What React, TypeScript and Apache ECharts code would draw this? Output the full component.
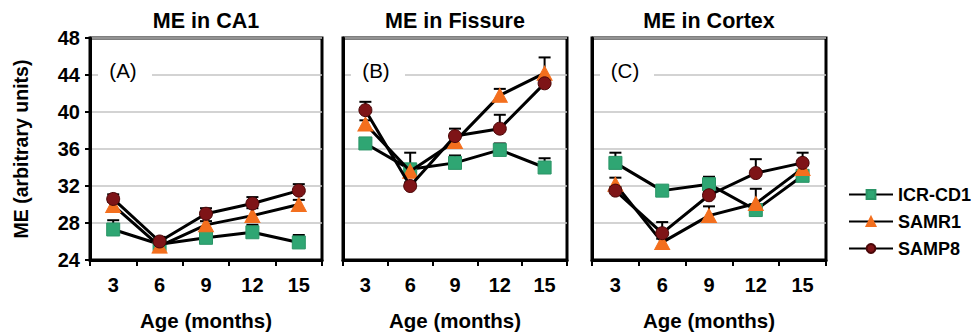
import React, { useEffect, useRef } from 'react';
import * as echarts from 'echarts';

const categories = ['3', '6', '9', '12', '15'];
const seriesNames = ['ICR-CD1', 'SAMR1', 'SAMP8'];
const panelTitles = ['ME in CA1', 'ME in Fissure', 'ME in Cortex'];
const panelLabels = ['(A)', '(B)', '(C)'];

// ME in CA1
const icrCA1 = [27.3, 25.7, 26.4, 27.0, 25.9];
const icrCA1Err = [1.0, 0.4, 0.6, 0.8, 0.8];
const samr1CA1 = [29.9, 25.5, 27.8, 28.8, 30.0];
const samr1CA1Err = [0.4, 0.4, 0.4, 0.8, 0.5];
const samp8CA1 = [30.6, 26.0, 29.0, 30.1, 31.5];
const samp8CA1Err = [0.5, 0.5, 0.6, 0.7, 0.7];

// ME in Fissure
const icrFis = [36.6, 33.8, 34.5, 35.9, 34.0];
const icrFisErr = [0.4, 0.4, 0.8, 0.7, 1.0];
const samr1Fis = [38.7, 33.6, 36.8, 41.8, 44.2];
const samr1FisErr = [0.4, 2.0, 0.4, 0.7, 1.7];
const samp8Fis = [40.2, 32.0, 37.4, 38.2, 43.1];
const samp8FisErr = [0.9, 0.4, 0.8, 1.5, 0.4];

// ME in Cortex
const icrCtx = [34.5, 31.5, 32.2, 29.4, 33.1];
const icrCtxErr = [1.1, 0.4, 0.8, 0.4, 0.4];
const samr1Ctx = [32.2, 25.9, 28.8, 30.1, 33.9];
const samr1CtxErr = [0.7, 0.4, 1.0, 1.6, 0.4];
const samp8Ctx = [31.5, 26.9, 31.0, 33.4, 34.5];
const samp8CtxErr = [0.4, 1.2, 0.4, 1.5, 1.1];

const panelData = [
  [[icrCA1, icrCA1Err], [samr1CA1, samr1CA1Err], [samp8CA1, samp8CA1Err]],
  [[icrFis, icrFisErr], [samr1Fis, samr1FisErr], [samp8Fis, samp8FisErr]],
  [[icrCtx, icrCtxErr], [samr1Ctx, samr1CtxErr], [samp8Ctx, samp8CtxErr]],
];

const FONT = '"Liberation Sans", Arial, sans-serif';
const GRID_TOP = 38;
const GRID_H = 228;
const panelLayout = [
  { left: 90, width: 232 },
  { left: 343, width: 224 },
  { left: 592, width: 234 },
];

const symbolStyles = [
  { symbol: 'rect', symbolSize: 13, color: '#2fa673', border: '#2a9466' },
  { symbol: 'triangle', symbolSize: [15, 14], color: '#f36f1e', border: '#f36f1e' },
  { symbol: 'circle', symbolSize: 13, color: '#7e1417', border: '#4a0708' },
];

function errSeries(idx: number, vals: number[], errs: number[]) {
  return {
    type: 'custom',
    xAxisIndex: idx,
    yAxisIndex: idx,
    z: 1,
    silent: true,
    data: vals.map((v, i) => [i, v, v + errs[i]]),
    encode: { x: 0, y: [1, 2] },
    renderItem: (params: any, api: any) => {
      const p = api.coord([api.value(0), api.value(1)]);
      const t = api.coord([api.value(0), api.value(2)]);
      return {
        type: 'group',
        children: [
          { type: 'line', shape: { x1: p[0], y1: p[1], x2: t[0], y2: t[1] }, style: { stroke: '#000', lineWidth: 2 } },
          { type: 'line', shape: { x1: t[0] - 6, y1: t[1], x2: t[0] + 6, y2: t[1] }, style: { stroke: '#000', lineWidth: 2 } },
        ],
      };
    },
  };
}

export default function App() {
  const ref = useRef<HTMLDivElement>(null);
  useEffect(() => {
    if (!ref.current) return;
    const chart = echarts.init(ref.current, undefined, { renderer: 'svg' });

    const grids = panelLayout.map((p) => ({
      left: p.left,
      top: GRID_TOP,
      width: p.width,
      height: GRID_H,
      show: true,
      borderColor: '#000',
      borderWidth: 3,
      backgroundColor: 'transparent',
    }));

    const xAxes = panelLayout.map((_, i) => ({
      type: 'category',
      gridIndex: i,
      data: categories,
      boundaryGap: true,
      axisLine: { show: true, lineStyle: { color: '#000', width: 3 } },
      axisTick: { show: true, inside: false, length: 6, lineStyle: { color: '#000', width: 2 } },
      axisLabel: { color: '#000', fontFamily: FONT, fontWeight: 'bold', fontSize: 20, margin: 15 },
      splitLine: { show: false },
      name: 'Age (months)',
      nameLocation: 'middle',
      nameGap: 50,
      nameTextStyle: { color: '#000', fontFamily: FONT, fontWeight: 'bold', fontSize: 20.5 },
    }));

    const yAxes = panelLayout.map((_, i) => ({
      type: 'value',
      gridIndex: i,
      min: 24,
      max: 48,
      interval: 4,
      axisLine: { show: true, lineStyle: { color: '#000', width: 3 } },
      axisTick: { show: i === 0, inside: false, length: 5, lineStyle: { color: '#000', width: 2 } },
      axisLabel: { show: i === 0, color: '#000', fontFamily: FONT, fontWeight: 'bold', fontSize: 20, margin: 10 },
      splitLine: { show: true, lineStyle: { color: '#c4c4c4', width: 1.5 } },
      name: i === 0 ? 'ME (arbitrary units)' : '',
      nameLocation: 'middle',
      nameGap: 59,
      nameTextStyle: { color: '#000', fontFamily: FONT, fontWeight: 'bold', fontSize: 19.5 },
    }));

    const series: any[] = [];
    panelData.forEach((panel, pi) => {
      panel.forEach(([vals, errs]) => {
        series.push(errSeries(pi, vals, errs));
      });
      panel.forEach(([vals], si) => {
        const s = symbolStyles[si];
        series.push({
          type: 'line',
          name: seriesNames[si],
          xAxisIndex: pi,
          yAxisIndex: pi,
          data: vals,
          symbol: s.symbol,
          symbolSize: s.symbolSize,
          showAllSymbol: true,
          z: 2 + si,
          itemStyle: { color: s.color, borderColor: s.border, borderWidth: 1, opacity: 1 },
          lineStyle: { color: '#000', width: 3 },
          emphasis: { disabled: true },
        });
      });
    });

    const graphics: any[] = [];
    panelLayout.forEach((p, i) => {
      graphics.push({
        type: 'text',
        x: p.left + p.width / 2,
        y: 21,
        style: {
          text: panelTitles[i],
          fill: '#000',
          font: `bold 21.5px ${FONT}`,
          textAlign: 'center',
          textVerticalAlign: 'middle',
        },
      });
      graphics.push({
        type: 'rect',
        z: 10,
        shape: { x: p.left + 8, y: 62, width: 54, height: 18 },
        style: { fill: '#fff' },
      });
      graphics.push({
        type: 'text',
        z: 11,
        x: p.left + 33,
        y: 70,
        style: {
          text: panelLabels[i],
          fill: '#000',
          font: `20.5px ${FONT}`,
          textAlign: 'center',
          textVerticalAlign: 'middle',
        },
      });
    });

    chart.setOption({
      animation: false,
      backgroundColor: '#fff',
      grid: grids,
      xAxis: xAxes,
      yAxis: yAxes,
      legend: {
        data: seriesNames,
        orient: 'vertical',
        left: 848,
        top: 184,
        padding: 0,
        itemWidth: 44,
        itemHeight: 11,
        itemGap: 6,
        textStyle: { color: '#000', fontFamily: FONT, fontWeight: 'bold', fontSize: 18, lineHeight: 21 },
      },
      graphic: graphics,
      series,
    });
    return () => chart.dispose();
  }, []);
  return (
    <div
      ref={ref}
      style={{ position: 'fixed', left: 0, top: 0, width: 973, height: 336, background: '#fff' }}
    />
  );
}
